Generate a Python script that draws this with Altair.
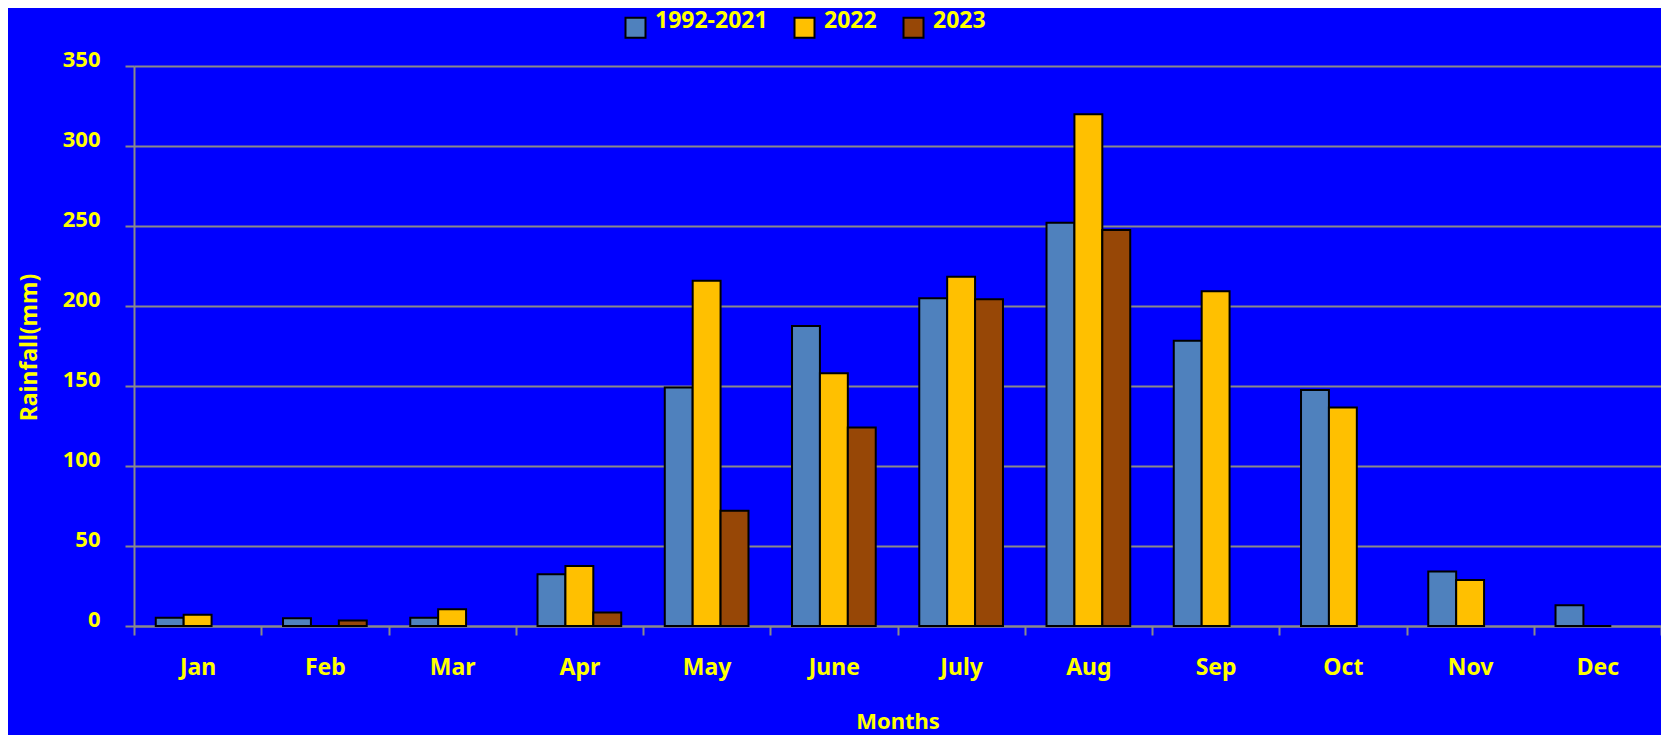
import altair as alt
import pandas as pd

months = ["Jan", "Feb", "Mar", "Apr", "May", "June", "July", "Aug", "Sep", "Oct", "Nov", "Dec"]
series = ["1992-2021", "2022", "2023"]
colors = ["#4F81BD", "#FFC000", "#974706"]

normal_1992_2021 = [5.2, 4.8, 5.2, 32.3, 149.0, 187.5, 204.8, 252.0, 178.3, 147.5, 34.0, 13.0]
rain_2022 = [7.0, 0.0, 10.4, 37.5, 215.8, 158.0, 218.3, 319.8, 209.2, 136.5, 28.7, 0.0]
rain_2023 = [None, 3.5, None, 8.5, 72.0, 124.0, 204.2, 247.5, None, None, None, None]

y_ticks = [0, 50, 100, 150, 200, 250, 300, 350]

rows = []
for i, m in enumerate(months):
    for s, vals in zip(series, [normal_1992_2021, rain_2022, rain_2023]):
        v = vals[i]
        if v is not None:
            rows.append({"Month": m, "Series": s, "Rainfall": v})
df = pd.DataFrame(rows)

FONT = "Noto Sans"
YEL = "#FFFF00"
GRAY = "#8a8a8a"

chart = alt.Chart(df).mark_bar(stroke="black", strokeWidth=2).encode(
    x=alt.X(
        "Month:N",
        sort=months,
        scale=alt.Scale(domain=months, paddingInner=0, paddingOuter=0),
        axis=alt.Axis(
            title="Months",
            labelAngle=0,
            tickBand="extent",
            tickSize=9,
            tickWidth=2,
            tickColor=GRAY,
            domainColor=GRAY,
            domainWidth=2,
            grid=False,
            labelPadding=21,
            labelFont=FONT,
            labelFontSize=23,
            labelFontWeight="bold",
            labelColor=YEL,
            titleFont=FONT,
            titleFontSize=22,
            titleFontWeight="bold",
            titleColor=YEL,
            titleBaseline="alphabetic",
            titleY=102,
        ),
    ),
    xOffset=alt.XOffset(
        "Series:N",
        scale=alt.Scale(domain=series, paddingInner=0, paddingOuter=0.78),
    ),
    y=alt.Y(
        "Rainfall:Q",
        scale=alt.Scale(domain=[0, 350], nice=False),
        axis=alt.Axis(
            title="Rainfall(mm)",
            values=y_ticks,
            grid=True,
            gridColor=GRAY,
            gridWidth=2,
            tickSize=9,
            tickWidth=2,
            tickColor=GRAY,
            domainColor=GRAY,
            domainWidth=2,
            labelPadding=25,
            labelOffset=-7,
            labelBaseline="middle",
            labelFont=FONT,
            labelFontSize=22,
            labelFontWeight="bold",
            labelColor=YEL,
            titleFont=FONT,
            titleFontSize=23,
            titleFontWeight="bold",
            titleColor=YEL,
            titleAngle=270,
            titleBaseline="alphabetic",
            titleAlign="center",
            titleX=-98,
            titleY=281,
        ),
    ),
    color=alt.Color(
        "Series:N",
        scale=alt.Scale(domain=series, range=colors),
        legend=alt.Legend(
            title=None,
            orient="none",
            legendX=490,
            legendY=-50,
            direction="horizontal",
            symbolType="square",
            symbolSize=400,
            symbolStrokeColor="black",
            symbolStrokeWidth=2,
            symbolOpacity=1,
            labelFont=FONT,
            labelFontSize=23,
            labelFontWeight="bold",
            labelColor=YEL,
            labelOffset=8,
            labelBaseline="alphabetic",
            columnPadding=22,
            padding=0,
        ),
    ),
).properties(
    width=1527,
    height=560,
    padding={"left": 126, "top": 58, "right": 0, "bottom": 109},
    autosize=alt.AutoSizeParams(type="none"),
    background="#0000FF",
).configure_view(strokeWidth=0)

chart.save("out.html", embed_options={"renderer": "svg", "actions": False})
